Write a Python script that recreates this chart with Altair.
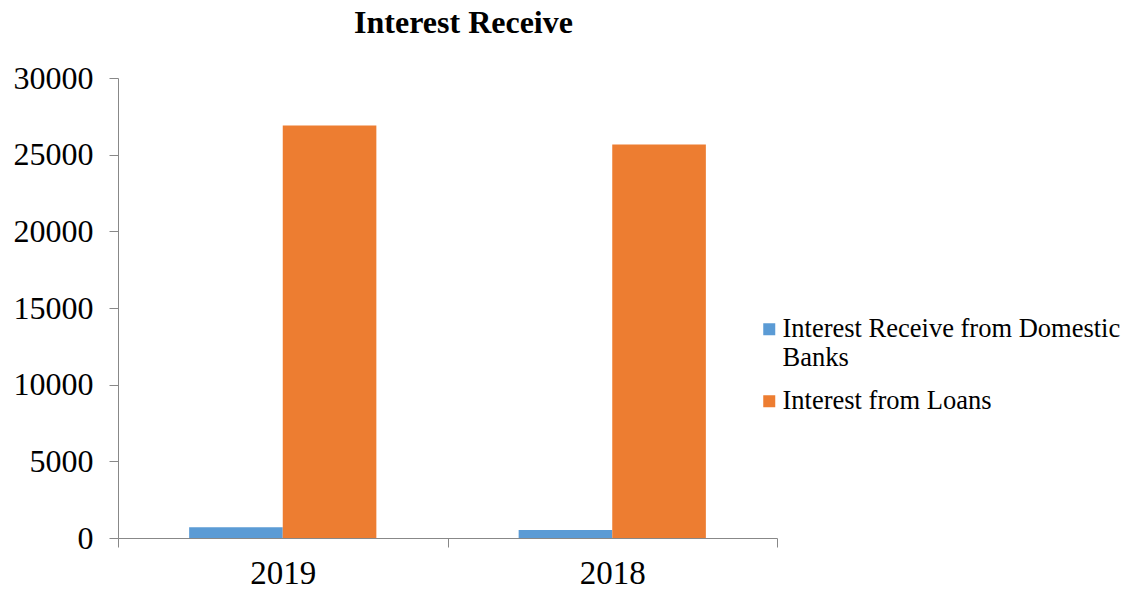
import altair as alt
import pandas as pd

years = ["2019", "2018"]
series = ["Interest Receive from Domestic Banks", "Interest from Loans"]
domestic = [700, 520]
loans = [26900, 25670]
colors = ["#5B9BD5", "#ED7D31"]

rows = []
for i, y in enumerate(years):
    rows.append({"year": y, "series": series[0], "value": domestic[i]})
    rows.append({"year": y, "series": series[1], "value": loans[i]})
df = pd.DataFrame(rows)

font = "Liberation Serif"

chart = alt.Chart(df).mark_bar().encode(
    x=alt.X("year:N", sort=years, title=None,
            scale=alt.Scale(paddingInner=0, paddingOuter=0),
            axis=alt.Axis(labelAngle=0, tickBand="extent", tickSize=9,
                          labelFontSize=33, labelFont=font, labelColor="black",
                          labelPadding=10, domainColor="#888888", tickColor="#888888")),
    xOffset=alt.XOffset("series:N", sort=series,
                        scale=alt.Scale(paddingOuter=0.76, paddingInner=0)),
    y=alt.Y("value:Q", title=None,
            scale=alt.Scale(domain=[0, 30000]),
            axis=alt.Axis(values=[0, 5000, 10000, 15000, 20000, 25000, 30000],
                          grid=False, tickSize=9, labelFontSize=32, labelFont=font,
                          labelColor="black", labelPadding=16, format="d",
                          domainColor="#888888", tickColor="#888888")),
    color=alt.Color("series:N", sort=series,
                    scale=alt.Scale(domain=series, range=colors),
                    legend=alt.Legend(title=None, orient="none", legendX=638, legendY=238,
                                      symbolType="square", symbolSize=144,
                                      symbolStrokeWidth=0,
                                      labelFont=font, labelFontSize=26.5, labelColor="black",
                                      labelLimit=420, rowPadding=16, labelOffset=0,
                                      labelExpr="datum.label == 'Interest Receive from Domestic Banks' ? ['Interest Receive from Domestic', 'Banks'] : datum.label")),
).properties(
    width=659, height=460,
    title=alt.TitleParams("Interest Receive", font=font, fontSize=32, fontWeight="bold",
                          color="black", anchor="middle", dx=16, offset=22),
    autosize=alt.AutoSizeParams(type="none"),
    padding={"left": 118, "top": 78, "right": 358, "bottom": 52},
).configure_view(stroke=None)

chart.save("out.html", embed_options={"renderer": "svg", "actions": False})
